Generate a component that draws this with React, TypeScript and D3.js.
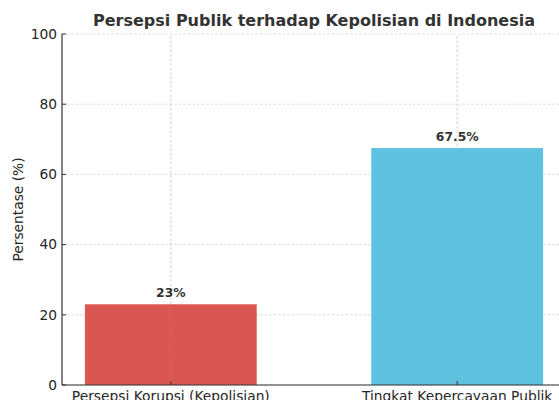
import React from "react";
import * as d3 from "d3";

const categories = ["Persepsi Korupsi (Kepolisian)", "Tingkat Kepercayaan Publik"];
const values = [23, 67.5];
const valueLabels = ["23%", "67.5%"];
const colors = ["#d9534f", "#5bc0de"];
const yTicks = [0, 20, 40, 60, 80, 100];

export default function App() {
  const W = 559, H = 400;
  const x = d3.scaleLinear().domain([-0.38, 1.38]).range([62, 566]);
  const y = d3.scaleLinear().domain([0, 100]).range([385, 34]);
  const bw = 0.6;
  const font = "DejaVu Sans, sans-serif";
  const txt = "#262626";
  return (
    <svg width={W} height={H} style={{ position: "absolute", left: 0, top: 0 }} fontFamily={font}>
      <rect width={W} height={H} fill="#fff" />
      {yTicks.map(t => (
        <line key={"gy" + t} x1={x(-0.38)} x2={x(1.38)} y1={y(t)} y2={y(t)} stroke="#ccc" strokeWidth={0.7} strokeDasharray="2.5,2" />
      ))}
      {categories.map((c, i) => (
        <line key={"gx" + i} x1={x(i)} x2={x(i)} y1={y(0)} y2={y(100)} stroke="#ccc" strokeWidth={0.7} strokeDasharray="2.5,2" />
      ))}
      {values.map((v, i) => (
        <rect key={"b" + i} x={x(i - bw / 2)} width={x(bw) - x(0)} y={y(v)} height={y(0) - y(v)} fill={colors[i]} fillOpacity={0.98} />
      ))}
      {categories.map((c, i) => (
        <line key={"gx2" + i} x1={x(i)} x2={x(i)} y1={y(0)} y2={y(100)} stroke="#bbb" strokeOpacity={0.35} strokeWidth={0.7} strokeDasharray="2.5,2" />
      ))}
      {values.map((v, i) => (
        <text key={"vl" + i} x={x(i)} y={y(v) - 7} textAnchor="middle" fontSize={12.3} fontWeight="bold" fill="#333">{valueLabels[i]}</text>
      ))}
      <line x1={62} x2={62} y1={y(100)} y2={y(0)} stroke="#333" strokeWidth={1.2} />
      <line x1={62} x2={566} y1={y(0)} y2={y(0)} stroke="#333" strokeWidth={1.2} />
      {yTicks.map(t => (
        <g key={"yt" + t}>
          <line x1={62} x2={66} y1={y(t)} y2={y(t)} stroke="#333" strokeWidth={1} />
          <text x={57} y={y(t)} dy="0.35em" textAnchor="end" fontSize={13.8} fill={txt}>{t}</text>
        </g>
      ))}
      {categories.map((c, i) => (
        <g key={"xt" + i}>
          <line x1={x(i)} x2={x(i)} y1={y(0)} y2={y(0) - 4} stroke="#333" strokeWidth={1} />
          <text x={x(i)} y={y(0) + 15.5} textAnchor="middle" fontSize={13.8} fill={txt}>{c}</text>
        </g>
      ))}
      <text transform={`translate(23,${(y(0) + y(100)) / 2}) rotate(-90)`} textAnchor="middle" fontSize={13.8} fill={txt}>Persentase (%)</text>
      <text x={314} y={26} textAnchor="middle" fontSize={16} fontWeight="bold" fill="#333">Persepsi Publik terhadap Kepolisian di Indonesia</text>
    </svg>
  );
}
